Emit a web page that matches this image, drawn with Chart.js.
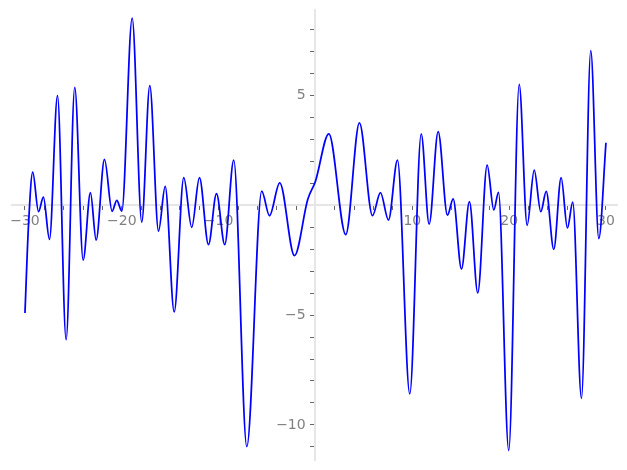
<!DOCTYPE html>
<html>
<head>
<meta charset="utf-8">
<script src="https://cdn.jsdelivr.net/npm/chart.js@4.4.0/dist/chart.umd.min.js"></script>
<style>
  html, body { margin: 0; padding: 0; background: #fff; }
  #wrap { width: 627px; height: 470px; }
</style>
</head>
<body>
<div id="wrap"><canvas id="plot"></canvas></div>
<script>
// curve samples (x, f(x)), mostly the turning points
const xs = [-30, -29.64, -29.2, -28.6, -28.1, -27.47, -26.64, -25.75, -24.86, -23.99,
            -23.24, -22.65, -21.79, -21.0, -20.52, -20.0, -18.93, -17.94, -17.11, -16.21,
            -15.52, -14.59, -13.6, -12.78, -11.98, -11.05, -10.22, -9.37, -8.44, -7.09,
            -5.55, -4.75, -3.69, -2.17, -0.8, 0, 1.38, 3.13, 4.54, 5.89,
            6.71, 7.54, 8.47, 9.74, 10.92, 11.74, 12.67, 13.63, 14.22, 15.08,
            15.9, 16.76, 17.73, 18.42, 18.9, 19.96, 21.04, 21.86, 22.59, 23.27,
            23.83, 24.61, 25.37, 26.02, 26.57, 27.47, 28.43, 29.26, 30];
const ys = [-4.9, -0.94, 1.51, -0.29, 0.38, -1.55, 5.0, -6.12, 5.38, -2.49,
            0.58, -1.58, 2.09, -0.27, 0.23, -0.26, 8.53, -0.76, 5.45, -1.17,
            0.86, -4.85, 1.26, -1.0, 1.26, -1.79, 0.53, -1.79, 2.06, -10.99,
            0.65, -0.47, 1.03, -2.29, 0.27, 1.1, 3.26, -1.33, 3.76, -0.47,
            0.58, -0.67, 2.06, -8.59, 3.26, -0.86, 3.36, -0.45, 0.30, -2.9,
            0.17, -3.99, 1.83, -0.21, 0.59, -11.17, 5.51, -0.91, 1.6, -0.29,
            0.64, -2.0, 1.26, -1.03, 0.15, -8.79, 7.05, -1.51, 2.85];

const xRange = [-31.34, 31.14];
const yRange = [-11.6, 8.9];
const xLabelEvery = 10;
const yLabelEvery = 5;

const points = xs.map((x, i) => ({ x: x, y: ys[i] }));

const axisFont = { family: "'DejaVu Sans', sans-serif", size: 14 };
const labelColor = '#808080';

function minusSign(v) {
    return String(v).replace('-', '\u2212');
}

// axes sit inside the plot, so they should not eat layout space
function noSpace(scale) {
    scale.width = scale.isHorizontal() ? scale.width : 0;
    scale.height = scale.isHorizontal() ? 0 : scale.height;
    scale.paddingTop = 0;
    scale.paddingBottom = 0;
    scale.paddingLeft = 0;
    scale.paddingRight = 0;
}

new Chart(document.getElementById('plot'), {
    type: 'scatter',
    data: {
        datasets: [{
            data: points,
            showLine: true,
            borderColor: '#0000ff',
            borderWidth: 1.75,
            pointRadius: 0,
            cubicInterpolationMode: 'monotone',
            fill: false
        }]
    },
    options: {
        responsive: true,
        maintainAspectRatio: false,
        animation: false,
        layout: { padding: { left: 12, right: 10, top: 10, bottom: 10 } },
        plugins: {
            legend: { display: false },
            tooltip: { enabled: false }
        },
        scales: {
            x: {
                type: 'linear',
                position: { y: 0 },
                min: xRange[0],
                max: xRange[1],
                afterFit: noSpace,
                border: { color: '#e6e6e6', width: 2 },
                grid: {
                    drawOnChartArea: false,
                    drawTicks: true,
                    tickLength: 4,
                    color: '#666666',
                    lineWidth: 1
                },
                ticks: {
                    stepSize: 2,
                    includeBounds: false,
                    autoSkip: false,
                    maxRotation: 0,
                    padding: 4,
                    color: labelColor,
                    font: axisFont,
                    callback: function(value) {
                        if (value === 0 || value % xLabelEvery !== 0) return '';
                        return minusSign(value);
                    }
                }
            },
            y: {
                type: 'linear',
                position: { x: 0 },
                min: yRange[0],
                max: yRange[1],
                afterFit: noSpace,
                border: { color: '#e6e6e6', width: 2 },
                grid: {
                    drawOnChartArea: false,
                    drawTicks: true,
                    tickLength: 4,
                    color: '#666666',
                    lineWidth: 1
                },
                ticks: {
                    stepSize: 1,
                    includeBounds: false,
                    autoSkip: false,
                    color: labelColor,
                    font: axisFont,
                    callback: function(value) {
                        if (value === 0 || value % yLabelEvery !== 0) return '';
                        // centred axis labels are drawn flush with the axis line,
                        // trailing spaces keep them clear of it
                        return minusSign(value) + '\u2002\u2009';
                    }
                }
            }
        }
    }
});
</script>
</body>
</html>
